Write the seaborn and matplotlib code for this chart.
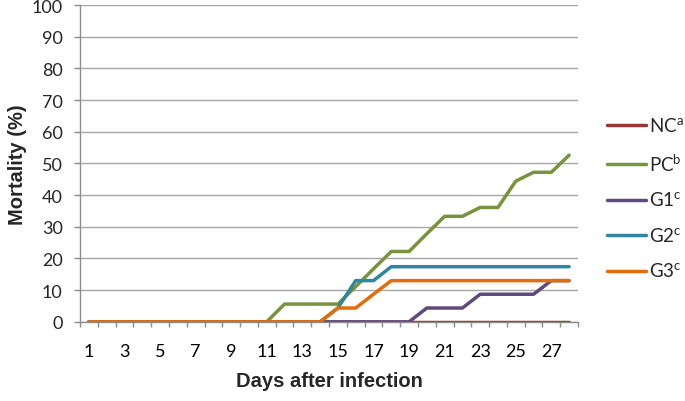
import pandas as pd
import matplotlib.pyplot as plt
import seaborn as sns

# mortality (%) per day after infection
days = list(range(1, 29))
nc = [0] * 28
pc = [0, 0, 0, 0, 0, 0, 0, 0, 0, 0, 0, 5.6, 5.6, 5.6, 5.6, 11.1, 16.7, 22.2, 22.2, 27.8,
      33.3, 33.3, 36.1, 36.1, 44.4, 47.2, 47.2, 52.6]
g1 = [0, 0, 0, 0, 0, 0, 0, 0, 0, 0, 0, 0, 0, 0, 0, 0, 0, 0, 0, 4.35,
      4.35, 4.35, 8.7, 8.7, 8.7, 8.7, 13.0, 13.0]
g2 = [0, 0, 0, 0, 0, 0, 0, 0, 0, 0, 0, 0, 0, 0, 4.35, 13.0, 13.0, 17.4, 17.4, 17.4,
      17.4, 17.4, 17.4, 17.4, 17.4, 17.4, 17.4, 17.4]
g3 = [0, 0, 0, 0, 0, 0, 0, 0, 0, 0, 0, 0, 0, 0, 4.35, 4.35, 8.7, 13.0, 13.0, 13.0,
      13.0, 13.0, 13.0, 13.0, 13.0, 13.0, 13.0, 13.0]

groups = [r'NC$^{\mathrm{a}}$', r'PC$^{\mathrm{b}}$', r'G1$^{\mathrm{c}}$',
          r'G2$^{\mathrm{c}}$', r'G3$^{\mathrm{c}}$']
colors = ['#953735', '#77933C', '#604A7B', '#31859C', '#E46C0A']

df = pd.concat([pd.DataFrame({'day': days, 'mortality': v, 'group': g})
                for g, v in zip(groups, [nc, pc, g1, g2, g3])])

sns.set_style("white")
plt.rcParams['font.family'] = ['Lato', 'DejaVu Sans']
plt.rcParams['mathtext.fontset'] = 'custom'
plt.rcParams['mathtext.rm'] = 'Lato'

fig = plt.figure(figsize=(6.85, 4.02), dpi=100)
ax = fig.add_axes([0.1168, 0.197, 0.727, 0.788])

sns.lineplot(data=df, x='day', y='mortality', hue='group', palette=colors,
             linewidth=2.5, ax=ax)

ax.set_xlim(0.5, 28.5)
ax.set_ylim(0, 100)
ax.set_yticks(range(0, 101, 10))
ax.yaxis.grid(True, color='#a6a6a6', linewidth=1)
ax.xaxis.grid(False)
ax.set_xticks(range(1, 28, 2))
ax.set_xticks([d + 0.5 for d in range(0, 29)], minor=True)
ax.tick_params(axis='x', which='major', length=0, labelsize=13, pad=15, colors='black')
ax.tick_params(axis='x', which='minor', length=3.5, width=1, color='#8c8c8c', bottom=True)
ax.tick_params(axis='y', length=4.5, width=1, color='#8c8c8c', left=True, labelsize=13, pad=8)
for s in ['top', 'right']:
    ax.spines[s].set_visible(False)
for s in ['left', 'bottom']:
    ax.spines[s].set_color('#8c8c8c')
    ax.spines[s].set_linewidth(1)

ax.set_xlabel('Days after infection', fontsize=14.5, fontweight='bold',
              family=['Liberation Sans'])
ax.set_ylabel('Mortality (%)', fontsize=14.5, fontweight='bold',
              family=['Liberation Sans'])
ax.xaxis.set_label_coords(0.5, -0.156)
ax.yaxis.set_label_coords(-0.106, 0.5)

ax.legend(loc='center left', bbox_to_anchor=(0.886, 0.504), bbox_transform=fig.transFigure,
          frameon=False, fontsize=13.5, handlelength=2.08, labelspacing=0.9,
          handletextpad=0.15, borderpad=0, borderaxespad=0)

plt.savefig('out.png', dpi=100)
